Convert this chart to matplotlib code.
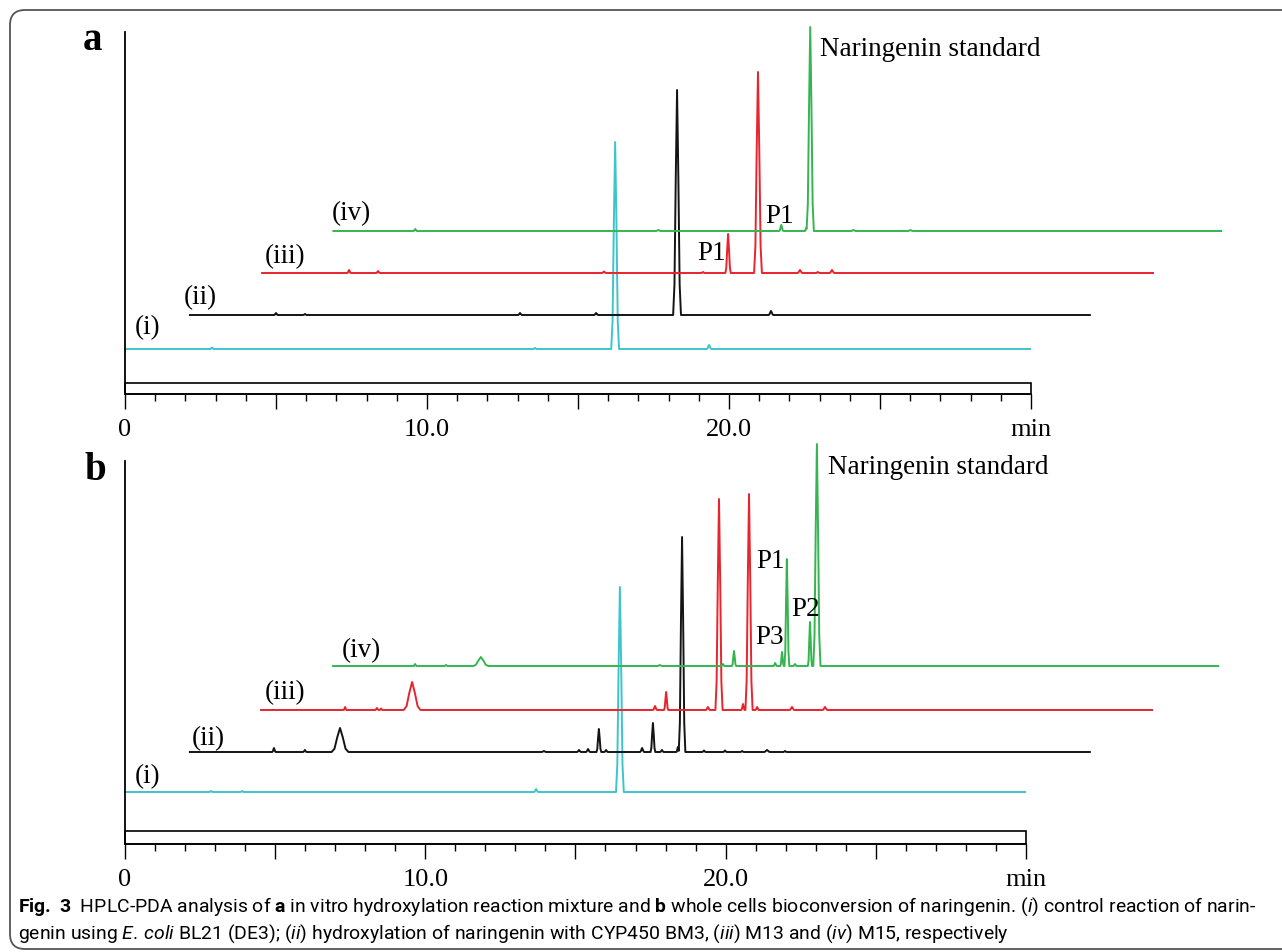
import numpy as np
import matplotlib
matplotlib.use("Agg")
import matplotlib.pyplot as plt
from matplotlib import font_manager
from matplotlib.patches import Rectangle, FancyBboxPatch
from matplotlib.ticker import FixedLocator, FixedFormatter

W, H = 1282, 953

trace_names = ["(i)", "(ii)", "(iii)", "(iv)"]
trace_colors = ["#3ec4cc", "#141414", "#e8242c", "#35b550"]

tick_pos = [0, 5, 10, 15, 20, 25, 30]
tick_text = ["0", "", "10.0", "", "20.0", "", "min"]
minor_pos = list(range(0, 31))

# stagger of each trace: start (min) and baseline level (mAU), end of run (min)
shift_a = [0.0, 2.15, 4.54, 6.9]
base_a = [45, 79, 121, 163]
end_a = [29.97, 29.8, 29.5, 29.4]

shift_b = [0.0, 2.16, 4.53, 6.93]
base_b = [52, 92, 134, 178]
end_b = [29.97, 29.97, 29.67, 29.47]

# peaks: (retention time min, height, half width min)
peaks_a_i = [(2.88, 1.5, 0.06), (13.58, 1, 0.06), (16.23, 207, 0.13), (19.34, 4, 0.08)]
peaks_a_ii = [(2.85, 2, 0.06), (3.81, 1, 0.06), (10.93, 2, 0.07), (13.45, 2, 0.07),
              (16.13, 225, 0.13), (19.24, 4, 0.08)]
peaks_a_iii = [(2.88, 3, 0.06), (3.84, 2, 0.06), (11.32, 1.5, 0.07), (14.6, 1, 0.06),
               (15.43, 39, 0.09), (16.42, 201, 0.13), (17.81, 3, 0.08), (18.4, 1, 0.06),
               (18.87, 3, 0.08)]
peaks_a_iv = [(2.71, 2, 0.06), (10.76, 1, 0.08), (14.83, 6, 0.07), (15.66, 3, 0.05),
              (15.79, 204, 0.12), (17.22, 1, 0.08), (19.11, 1, 0.08)]

peaks_b_i = [(2.86, 1, 0.06), (3.9, 1, 0.06), (13.69, 3, 0.07), (16.48, 205, 0.13)]
peaks_b_ii = [(2.80, 4, 0.06), (3.83, 2, 0.06), (5.0, 24, 0.28), (11.79, 1, 0.08),
              (12.96, 2, 0.07), (13.26, 3, 0.07), (13.62, 23, 0.08), (13.86, 2, 0.06),
              (15.06, 4, 0.07), (15.42, 29, 0.08), (15.72, 2, 0.06), (16.25, 5, 0.05),
              (16.39, 215, 0.11), (17.12, 1.5, 0.06), (17.82, 1.5, 0.06), (18.39, 1, 0.06),
              (19.22, 2, 0.1), (19.82, 1, 0.06)]
peaks_b_iii = [(2.80, 3, 0.05), (3.86, 2, 0.06), (4.0, 1.5, 0.05), (5.03, 28, 0.28),
               (13.12, 4, 0.07), (13.49, 18, 0.07), (14.88, 3, 0.07), (15.25, 211, 0.12),
               (16.05, 6, 0.06), (16.25, 216, 0.12), (16.52, 3, 0.06), (17.68, 3, 0.08),
               (18.78, 3, 0.08)]
peaks_b_iv = [(2.73, 2, 0.05), (3.76, 1, 0.06), (4.92, 9, 0.25), (10.88, 1, 0.08),
              (12.98, 2, 0.06), (13.35, 15, 0.07), (14.72, 3, 0.06), (14.95, 14, 0.06),
              (15.11, 107, 0.08), (15.38, 2, 0.06), (15.88, 44, 0.07), (16.11, 222, 0.12)]

peaks_a = [peaks_a_i, peaks_a_ii, peaks_a_iii, peaks_a_iv]
peaks_b = [peaks_b_i, peaks_b_ii, peaks_b_iii, peaks_b_iv]

# outline of one peak, in units of its half width / height
shape_x = np.array([-1.0, -0.66, -0.33, 0.0, 0.33, 0.66, 1.0])
shape_y = np.array([0.0, 0.135, 0.61, 1.0, 0.61, 0.135, 0.0])


def build_trace(peaks, end):
    xs = [0.0, end]
    for rt, h, w in peaks:
        xs.extend(rt + w * shape_x)
    xs = np.unique(xs)
    ys = np.zeros_like(xs)
    for rt, h, w in peaks:
        ys += np.interp(xs, rt + w * shape_x, h * shape_y, left=0, right=0)
    return xs, ys


def fp(x, y):
    return x / W, 1 - y / H


def has_bold(name):
    for f in font_manager.fontManager.ttflist:
        w = f.weight
        if isinstance(w, str):
            w = font_manager.weight_dict.get(w, 400)
        if f.name == name and w >= 700:
            return True
    return False


plt.rcParams["font.family"] = ["Liberation Serif", "DejaVu Serif"]
cap_font = next((n for n in ["Roboto", "Lato", "Open Sans"] if has_bold(n)), "DejaVu Sans")
plt.rcParams["mathtext.fontset"] = "custom"
plt.rcParams["mathtext.rm"] = cap_font
plt.rcParams["mathtext.it"] = cap_font + ":italic"
plt.rcParams["mathtext.bf"] = cap_font + ":bold"

fig = plt.figure(figsize=(W / 100, H / 100), dpi=100)


def make_panel(axis_y, top_y, px_per_min, box_h, shifts, bases, ends, peaks):
    left = 125
    width = 1105
    ax = fig.add_axes([left / W, (H - axis_y) / H, width / W, (axis_y - top_y) / H])
    ax.set_xlim(0, width / px_per_min)
    ax.set_ylim(0, axis_y - top_y)
    ax.patch.set_alpha(0)
    for s in ["top", "right"]:
        ax.spines[s].set_visible(False)
    ax.spines["bottom"].set_bounds(0, 30)
    ax.spines["left"].set_linewidth(1.3)
    ax.spines["bottom"].set_linewidth(1.2)
    ax.set_yticks([])
    ax.xaxis.set_major_locator(FixedLocator(tick_pos))
    ax.xaxis.set_major_formatter(FixedFormatter(tick_text))
    ax.xaxis.set_minor_locator(FixedLocator(minor_pos))
    ax.tick_params(axis="x", which="major", direction="out", length=10.8, width=1.0,
                   pad=6.5, labelsize=19)
    ax.tick_params(axis="x", which="minor", direction="out", length=5, width=1.0)
    ax.add_patch(Rectangle((0, 0), 30, box_h, fill=False, lw=1.2, ec="black", clip_on=False))
    for k in range(4):
        xs, ys = build_trace(peaks[k], ends[k])
        ax.plot(xs + shifts[k], ys + bases[k], color=trace_colors[k], lw=1.4, clip_on=False)
    return ax


ax_a = make_panel(395, 33, 30.2, 11, shift_a, base_a, end_a, peaks_a)
ax_b = make_panel(845, 462, 30.03, 13, shift_b, base_b, end_b, peaks_b)

# panel letters
fig.text(*fp(93, 41), "a", fontsize=28, fontweight="bold", ha="center", va="center")
fig.text(*fp(95, 471), "b", fontsize=28, fontweight="bold", ha="center", va="center")

# trace labels
lab_a = [(148, 328), (200, 298), (285, 257), (351, 214)]
lab_b = [(148, 777), (208, 739), (285, 693), (361, 651)]
for k in range(4):
    fig.text(*fp(*lab_a[k]), trace_names[k], fontsize=19.5, ha="center", va="center")
    fig.text(*fp(*lab_b[k]), trace_names[k], fontsize=19.5, ha="center", va="center")

fig.text(*fp(820, 50), "Naringenin standard", fontsize=19.5, ha="left", va="center")
fig.text(*fp(828, 468), "Naringenin standard", fontsize=19.5, ha="left", va="center")
fig.text(*fp(712, 253), "P1", fontsize=19.5, ha="center", va="center")
fig.text(*fp(780, 217), "P1", fontsize=19.5, ha="center", va="center")
fig.text(*fp(771, 562), "P1", fontsize=19.5, ha="center", va="center")
fig.text(*fp(806, 610), "P2", fontsize=19.5, ha="center", va="center")
fig.text(*fp(770, 638), "P3", fontsize=19.5, ha="center", va="center")

# caption
line1 = (r"$\mathbf{Fig.\ 3}$  HPLC-PDA analysis of $\mathbf{a}$ in vitro hydroxylation reaction "
         r"mixture and $\mathbf{b}$ whole cells bioconversion of naringenin. ($\mathit{i}$) "
         r"control reaction of narin-")
line2 = (r"genin using $\mathit{E.\,coli}$ BL21 (DE3); ($\mathit{ii}$) hydroxylation of naringenin "
         r"with CYP450 BM3, ($\mathit{iii}$) M13 and ($\mathit{iv}$) M15, respectively")
t1 = fig.text(*fp(18, 912), line1, family=cap_font, fontsize=12, va="baseline")
t2 = fig.text(*fp(18, 939), line2, family=cap_font, fontsize=12, va="baseline")
renderer = fig.canvas.get_renderer()
scale = 1232 / t1.get_window_extent(renderer).width
t1.set_fontsize(12 * scale)
t2.set_fontsize(12 * scale)

# rounded frame around figure + caption
frame = FancyBboxPatch((0.10, 0.03), 14.0, 9.39, boxstyle="round,pad=0,rounding_size=0.15",
                       transform=fig.dpi_scale_trans, fill=False, ec="#555555", lw=1.3)
fig.add_artist(frame)

fig.savefig("out.png", dpi=100)
